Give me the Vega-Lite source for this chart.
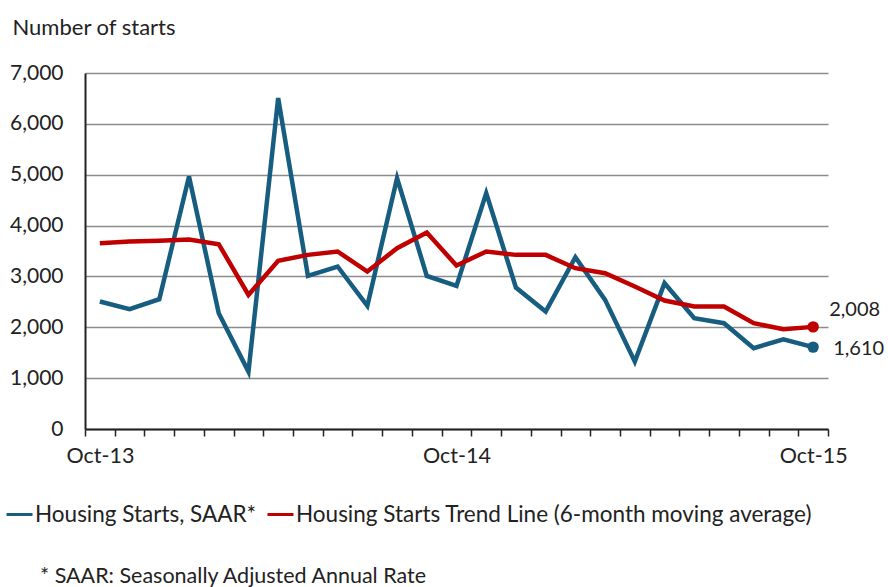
{
  "$schema": "https://vega.github.io/schema/vega-lite/v6.json",
  "width": 743,
  "height": 356,
  "autosize": {"type": "none"},
  "padding": {"left": 85, "top": 73, "right": 60, "bottom": 158},
  "background": "white",
  "config": {
    "font": "Lato",
    "view": {"stroke": null}
  },
  "title": {
    "text": "* SAAR: Seasonally Adjusted Annual Rate",
    "orient": "bottom",
    "anchor": "start",
    "dx": 35,
    "offset": 40,
    "fontSize": 21.5,
    "fontWeight": "normal",
    "color": "#222222",
    "font": "Lato"
  },
  "data": {
    "values": [
      {"month": "Oct-13", "series": "Housing Starts, SAAR*", "value": 2506},
      {"month": "Nov-13", "series": "Housing Starts, SAAR*", "value": 2355},
      {"month": "Dec-13", "series": "Housing Starts, SAAR*", "value": 2552},
      {"month": "Jan-14", "series": "Housing Starts, SAAR*", "value": 4966},
      {"month": "Feb-14", "series": "Housing Starts, SAAR*", "value": 2276},
      {"month": "Mar-14", "series": "Housing Starts, SAAR*", "value": 1128},
      {"month": "Apr-14", "series": "Housing Starts, SAAR*", "value": 6508},
      {"month": "May-14", "series": "Housing Starts, SAAR*", "value": 3011},
      {"month": "Jun-14", "series": "Housing Starts, SAAR*", "value": 3195},
      {"month": "Jul-14", "series": "Housing Starts, SAAR*", "value": 2421},
      {"month": "Aug-14", "series": "Housing Starts, SAAR*", "value": 4933},
      {"month": "Sep-14", "series": "Housing Starts, SAAR*", "value": 3011},
      {"month": "Oct-14", "series": "Housing Starts, SAAR*", "value": 2814},
      {"month": "Nov-14", "series": "Housing Starts, SAAR*", "value": 4638},
      {"month": "Dec-14", "series": "Housing Starts, SAAR*", "value": 2781},
      {"month": "Jan-15", "series": "Housing Starts, SAAR*", "value": 2309},
      {"month": "Feb-15", "series": "Housing Starts, SAAR*", "value": 3378},
      {"month": "Mar-15", "series": "Housing Starts, SAAR*", "value": 2539},
      {"month": "Apr-15", "series": "Housing Starts, SAAR*", "value": 1325},
      {"month": "May-15", "series": "Housing Starts, SAAR*", "value": 2867},
      {"month": "Jun-15", "series": "Housing Starts, SAAR*", "value": 2178},
      {"month": "Jul-15", "series": "Housing Starts, SAAR*", "value": 2080},
      {"month": "Aug-15", "series": "Housing Starts, SAAR*", "value": 1588},
      {"month": "Sep-15", "series": "Housing Starts, SAAR*", "value": 1765},
      {"month": "Oct-15", "series": "Housing Starts, SAAR*", "value": 1610},
      {"month": "Oct-13", "series": "Housing Starts Trend Line (6-month moving average)", "value": 3654},
      {"month": "Nov-13", "series": "Housing Starts Trend Line (6-month moving average)", "value": 3687},
      {"month": "Dec-13", "series": "Housing Starts Trend Line (6-month moving average)", "value": 3700},
      {"month": "Jan-14", "series": "Housing Starts Trend Line (6-month moving average)", "value": 3725},
      {"month": "Feb-14", "series": "Housing Starts Trend Line (6-month moving average)", "value": 3634},
      {"month": "Mar-14", "series": "Housing Starts Trend Line (6-month moving average)", "value": 2637},
      {"month": "Apr-14", "series": "Housing Starts Trend Line (6-month moving average)", "value": 3306},
      {"month": "May-14", "series": "Housing Starts Trend Line (6-month moving average)", "value": 3424},
      {"month": "Jun-14", "series": "Housing Starts Trend Line (6-month moving average)", "value": 3490},
      {"month": "Jul-14", "series": "Housing Starts Trend Line (6-month moving average)", "value": 3096},
      {"month": "Aug-14", "series": "Housing Starts Trend Line (6-month moving average)", "value": 3555},
      {"month": "Sep-14", "series": "Housing Starts Trend Line (6-month moving average)", "value": 3864},
      {"month": "Oct-14", "series": "Housing Starts Trend Line (6-month moving average)", "value": 3214},
      {"month": "Nov-14", "series": "Housing Starts Trend Line (6-month moving average)", "value": 3490},
      {"month": "Dec-14", "series": "Housing Starts Trend Line (6-month moving average)", "value": 3424},
      {"month": "Jan-15", "series": "Housing Starts Trend Line (6-month moving average)", "value": 3424},
      {"month": "Feb-15", "series": "Housing Starts Trend Line (6-month moving average)", "value": 3162},
      {"month": "Mar-15", "series": "Housing Starts Trend Line (6-month moving average)", "value": 3064},
      {"month": "Apr-15", "series": "Housing Starts Trend Line (6-month moving average)", "value": 2801},
      {"month": "May-15", "series": "Housing Starts Trend Line (6-month moving average)", "value": 2526},
      {"month": "Jun-15", "series": "Housing Starts Trend Line (6-month moving average)", "value": 2408},
      {"month": "Jul-15", "series": "Housing Starts Trend Line (6-month moving average)", "value": 2408},
      {"month": "Aug-15", "series": "Housing Starts Trend Line (6-month moving average)", "value": 2080},
      {"month": "Sep-15", "series": "Housing Starts Trend Line (6-month moving average)", "value": 1961},
      {"month": "Oct-15", "series": "Housing Starts Trend Line (6-month moving average)", "value": 2008}
    ]
  },
  "encoding": {
    "x": {
      "field": "month",
      "type": "ordinal",
      "sort": null,
      "scale": {"type": "band", "paddingInner": 0, "paddingOuter": 0},
      "axis": {
        "title": null,
        "labelAngle": 0,
        "labelExpr": "indexof('' + datum.label, 'Oct') == 0 ? datum.label : ''",
        "labelFont": "Lato",
        "labelFontSize": 21.5,
        "labelColor": "#222222",
        "labelPadding": 9,
        "tickBand": "extent",
        "ticks": true,
        "tickSize": 7,
        "tickWidth": 1.5,
        "tickColor": "#222222",
        "domainColor": "#222222",
        "domainWidth": 2,
        "grid": false
      }
    },
    "y": {
      "field": "value",
      "type": "quantitative",
      "scale": {"domain": [0, 7000], "nice": false},
      "axis": {
        "values": [0, 1000, 2000, 3000, 4000, 5000, 6000, 7000],
        "format": ",d",
        "title": "Number of starts",
        "titleAngle": 0,
        "titleAlign": "left",
        "titleBaseline": "middle",
        "titleX": -73,
        "titleY": -46,
        "titleFont": "Lato",
        "titleFontSize": 22,
        "titleFontWeight": "normal",
        "titleColor": "#222222",
        "labelFont": "Lato",
        "labelFontSize": 21,
        "labelColor": "#222222",
        "labelPadding": 22,
        "ticks": false,
        "domainColor": "#222222",
        "domainWidth": 2,
        "grid": true,
        "gridColor": "#8c8c8c",
        "gridWidth": 1.5
      }
    },
    "color": {
      "field": "series",
      "type": "nominal",
      "sort": null,
      "scale": {
        "domain": ["Housing Starts, SAAR*", "Housing Starts Trend Line (6-month moving average)"],
        "range": ["#175d80", "#c00000"]
      },
      "legend": {
        "title": null,
        "orient": "none",
        "direction": "horizontal",
        "legendX": -80,
        "legendY": 427,
        "symbolType": "stroke",
        "symbolSize": 676,
        "symbolStrokeWidth": 3,
        "labelFont": "Lato",
        "labelFontSize": 22.5,
        "labelColor": "#222222",
        "labelOffset": 1,
        "labelLimit": 0,
        "columnPadding": 4
      }
    }
  },
  "layer": [
    {
      "mark": {"type": "line", "strokeWidth": 4.5, "strokeJoin": "miter"}
    },
    {
      "transform": [{"filter": "datum.month == 'Oct-15'"}],
      "mark": {"type": "circle", "size": 130, "opacity": 1}
    },
    {
      "transform": [{"filter": "datum.month == 'Oct-15' && datum.series == 'Housing Starts, SAAR*'"}],
      "mark": {"type": "text", "align": "left", "dx": 20, "dy": 2, "fontSize": 20, "font": "Lato", "color": "#222222"},
      "encoding": {"text": {"field": "value", "type": "quantitative", "format": ","}, "color": {"value": "#222222"}}
    },
    {
      "transform": [{"filter": "datum.month == 'Oct-15' && datum.series != 'Housing Starts, SAAR*'"}],
      "mark": {"type": "text", "align": "left", "dx": 16, "dy": -17, "fontSize": 20, "font": "Lato", "color": "#222222"},
      "encoding": {"text": {"field": "value", "type": "quantitative", "format": ","}, "color": {"value": "#222222"}}
    }
  ]
}
